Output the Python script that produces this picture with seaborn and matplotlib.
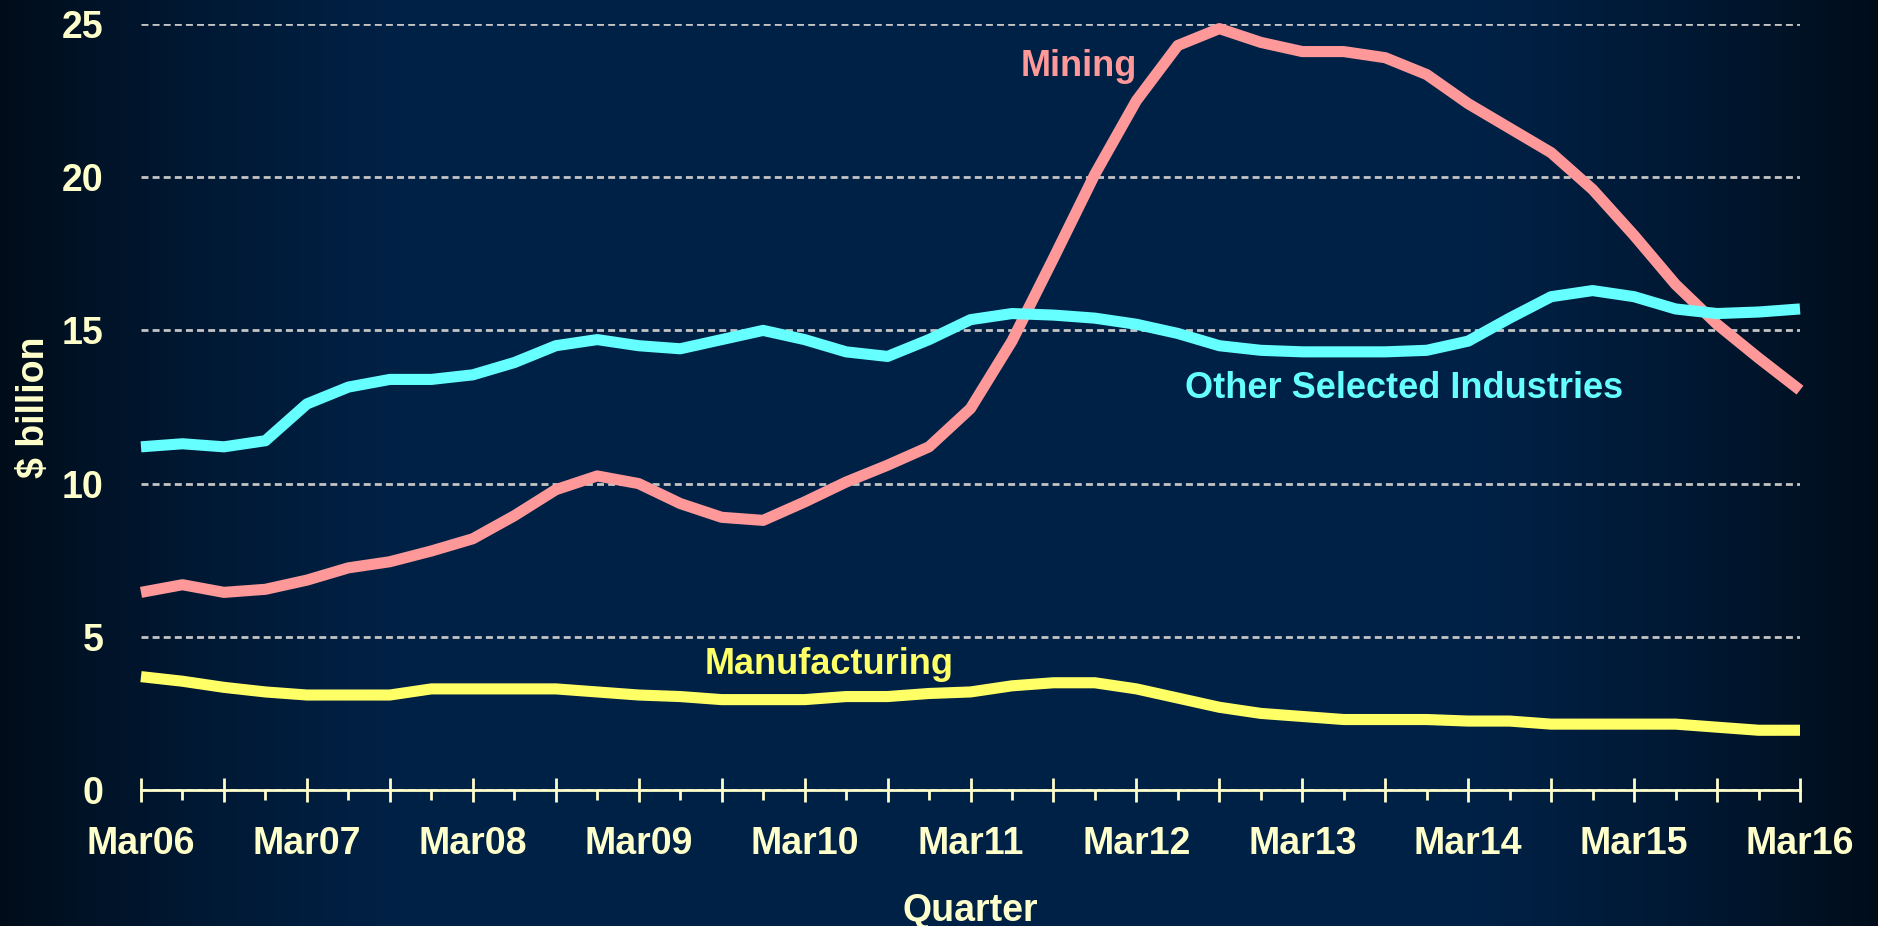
import numpy as np
import pandas as pd
import matplotlib
matplotlib.use("Agg")
from matplotlib import pyplot as plt
from matplotlib.colors import LinearSegmentedColormap
import seaborn as sns

# quarters Mar06 .. Mar16
quarters = [f"{m}{y:02d}" for y in range(6, 17) for m in ["Mar", "Jun", "Sep", "Dec"]][:41]

mining = [6.45, 6.7, 6.45, 6.55, 6.85, 7.25, 7.45, 7.8, 8.2, 8.95,
          9.8, 10.25, 10.0, 9.35, 8.9, 8.8, 9.4, 10.05, 10.6, 11.2,
          12.45, 14.65, 17.35, 20.1, 22.5, 24.3, 24.85, 24.4, 24.1, 24.1,
          23.9, 23.35, 22.4, 21.6, 20.8, 19.6, 18.1, 16.5, 15.2, 14.1,
          13.05]
other = [11.2, 11.3, 11.2, 11.4, 12.6, 13.15, 13.4, 13.4, 13.55, 13.95,
         14.5, 14.7, 14.5, 14.4, 14.7, 15.0, 14.7, 14.3, 14.15, 14.7,
         15.35, 15.55, 15.5, 15.4, 15.2, 14.9, 14.5, 14.35, 14.3, 14.3,
         14.3, 14.35, 14.65, 15.4, 16.1, 16.3, 16.1, 15.7, 15.55, 15.6,
         15.7]
manufacturing = [3.7, 3.55, 3.35, 3.2, 3.1, 3.1, 3.1, 3.3, 3.3, 3.3,
                 3.3, 3.2, 3.1, 3.05, 2.95, 2.95, 2.95, 3.05, 3.05, 3.15,
                 3.2, 3.4, 3.5, 3.5, 3.3, 3.0, 2.7, 2.5, 2.4, 2.3,
                 2.3, 2.3, 2.25, 2.25, 2.15, 2.15, 2.15, 2.15, 2.05, 1.95,
                 1.95]

series_names = ["Mining", "Other Selected Industries", "Manufacturing"]
series_colors = ["#ff9999", "#66ffff", "#ffff66"]
cream = "#ffffcc"

frames = []
for name, vals in zip(series_names, [mining, other, manufacturing]):
    frames.append(pd.DataFrame({"idx": range(len(quarters)), "quarter": quarters,
                                "value": vals, "series": name}))
df = pd.concat(frames, ignore_index=True)

sns.set_style("white")
plt.rcParams["font.family"] = ["Liberation Sans", "DejaVu Sans"]
plt.rcParams["font.weight"] = "bold"

fig = plt.figure(figsize=(18.78, 9.26), dpi=100)

# background gradient: dark at both sides, navy in the middle
bg = fig.add_axes([0, 0, 1, 1], zorder=-10)
xs = np.linspace(0, 1, 600)
prof = np.clip(np.sin(np.pi * xs) * 1.6, 0, 1) ** 0.8
cmap = LinearSegmentedColormap.from_list("bg", ["#000c18", "#002146"])
bg.imshow(prof[None, :], aspect="auto", cmap=cmap, vmin=0, vmax=1,
          extent=[0, 1, 0, 1])
bg.set_axis_off()

ax = fig.add_axes([141 / 1878, 1 - 790 / 926, (1800 - 141) / 1878, (790 - 24) / 926])
ax.set_facecolor("none")

sns.lineplot(data=df, x="idx", y="value", hue="series", hue_order=series_names,
             palette=series_colors, linewidth=8, legend=False, sort=False, ax=ax)
for ln in ax.lines:
    ln.set_clip_on(False)
    ln.set_solid_joinstyle("round")
    ln.set_solid_capstyle("butt")

ax.set_xlim(0, 40)
ax.set_ylim(0, 25)
ax.set_yticks(range(0, 26, 5))
ax.set_xticks(range(0, 41, 2))
ax.set_xticklabels([q if i % 4 == 0 else "" for i, q in enumerate(quarters) if i % 2 == 0])
ax.set_xticks(range(1, 41, 2), minor=True)

ax.yaxis.grid(True, linestyle=(0, (2.5, 1.5)), color="#c4c4c4", linewidth=2)
ax.xaxis.grid(False)
for s in ["top", "left", "right"]:
    ax.spines[s].set_visible(False)
ax.spines["bottom"].set_color(cream)
ax.spines["bottom"].set_linewidth(2)
ax.spines["bottom"].set_zorder(5)

ax.tick_params(axis="x", which="major", bottom=True, direction="inout", length=17,
               width=2, color=cream, labelcolor=cream, labelsize=27, pad=17.5)
ax.tick_params(axis="x", which="minor", bottom=True, direction="out", length=7,
               width=2, color=cream)
ax.tick_params(axis="y", left=False, length=0, labelcolor=cream, labelsize=27, pad=27)

ax.set_xlabel("Quarter", color=cream, fontsize=27, fontweight="bold", labelpad=22)
ax.set_ylabel("$ billion", color=cream, fontsize=27, fontweight="bold", labelpad=7)

ax.text(22.6, 23.6, "Mining", color=series_colors[0], fontsize=26,
        ha="center", va="center", fontweight="bold")
ax.text(30.45, 13.1, "Other Selected Industries", color=series_colors[1], fontsize=26,
        ha="center", va="center", fontweight="bold")
ax.text(16.6, 4.08, "Manufacturing", color=series_colors[2], fontsize=26,
        ha="center", va="center", fontweight="bold")

fig.savefig("out.png", dpi=100)
